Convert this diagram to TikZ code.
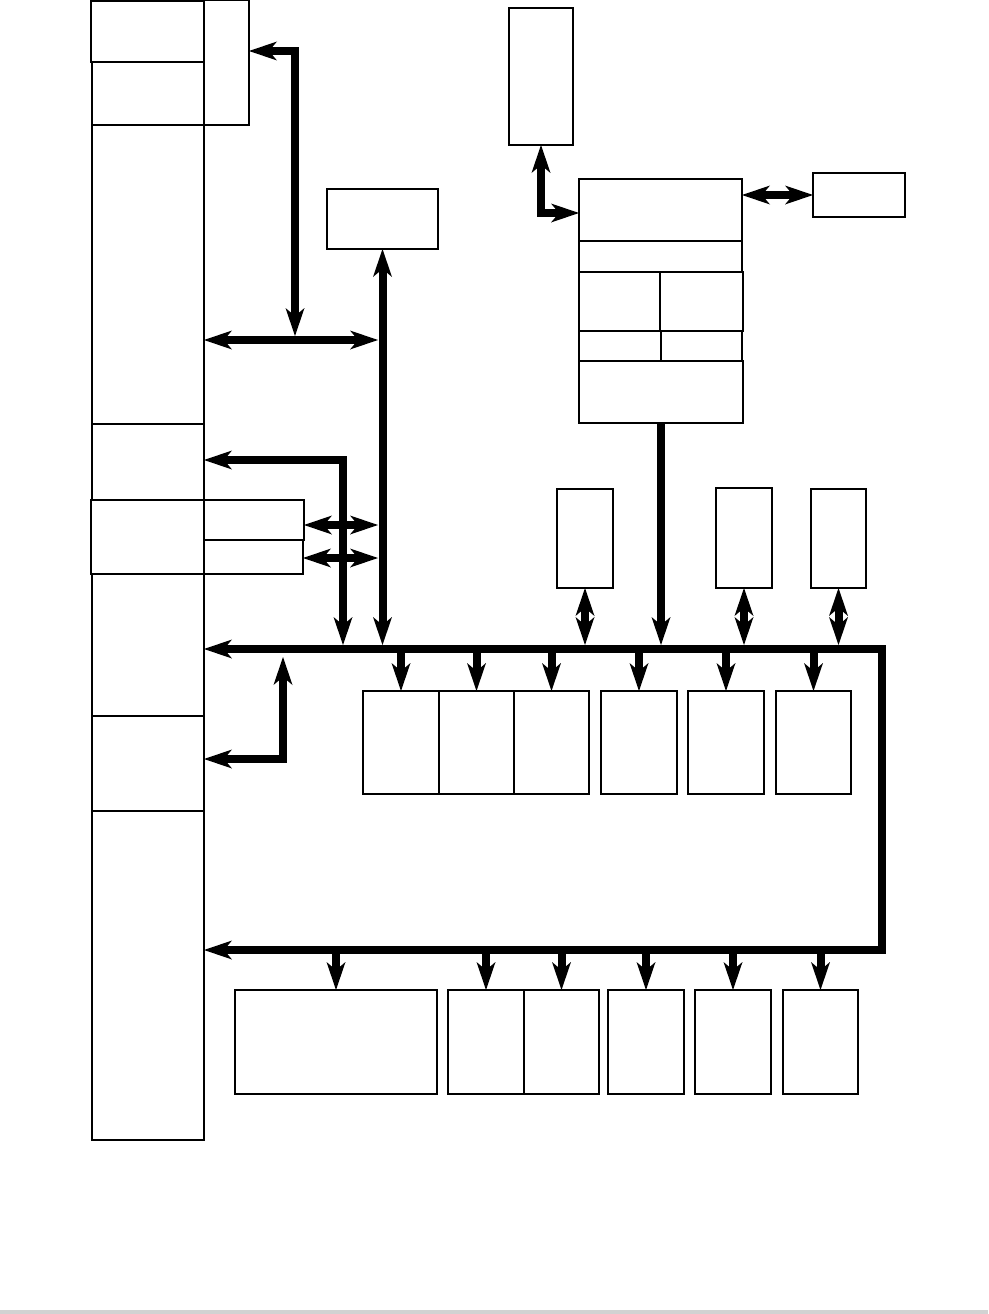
\documentclass[tikz,border=0pt]{standalone}
\usetikzlibrary{arrows.meta}
\tikzset{
 bx/.style={draw, line width=1.5pt, inner sep=0pt, outer sep=0pt, fill=white},
 bus/.style={line width=8pt, >={Stealth[length=28pt,width=19pt,inset=8pt,line width=0pt]}},
}
\newcommand\bx[5]{\node[bx,minimum width={(#4-#2)*1pt},minimum height={(#5-#3)*1pt}] (#1) at ({(#2+#4)/2*1pt},{-(#3+#5)/2*1pt}) {};}
\begin{document}
\begin{tikzpicture}
\useasboundingbox (0,0) rectangle (988pt,-1314pt);
\fill[gray!35] (0,-1310pt) rectangle (988pt,-1314pt);
% left column
\bx{A}{91}{1}{204}{62}
\bx{B}{92}{62}{204}{125}
\bx{C}{204}{0}{249}{125}
\bx{D}{92}{125}{204}{424}
\bx{E}{92}{424}{204}{500}
\bx{F}{91}{500}{204}{574}
\bx{F1}{204}{500}{304}{540}
\bx{F2}{204}{540}{303}{574}
\bx{G}{92}{574}{204}{716}
\bx{H}{92}{716}{204}{811}
\bx{I}{92}{811}{204}{1140}
% top
\bx{J}{327}{189}{438}{249}
\bx{K}{509}{8}{573}{145}
\bx{L}{579}{179}{742}{241}
\bx{L2}{579}{241}{742}{272}
\bx{L3a}{579}{272}{660}{331}
\bx{L3b}{660}{272}{743}{331}
\bx{L4a}{579}{331}{661}{361}
\bx{L4b}{661}{331}{742}{361}
\bx{L5}{579}{361}{743}{423}
\bx{M}{813}{173}{905}{217}
% above bus 1
\bx{N1}{557}{489}{613}{588}
\bx{N2}{716}{488}{772}{588}
\bx{N3}{811}{489}{866}{588}
% below bus 1
\bx{P1}{363}{691}{439}{794}
\bx{P2}{439}{691}{514}{794}
\bx{P3}{514}{691}{589}{794}
\bx{P4}{601}{691}{677}{794}
\bx{P5}{688}{691}{764}{794}
\bx{P6}{776}{691}{851}{794}
% below bus 2
\bx{Q1}{235}{990}{437}{1094}
\bx{Q2}{448}{990}{524}{1094}
\bx{Q3}{524}{990}{599}{1094}
\bx{Q4}{608}{990}{684}{1094}
\bx{Q5}{695}{990}{771}{1094}
\bx{Q6}{783}{990}{858}{1094}
% coordinates
\coordinate (b1) at (882pt,-649pt);
\coordinate (b2) at (882pt,-950pt);
\coordinate (b1t) at (0,-645pt);
\coordinate (b1b) at (0,-653pt);
\coordinate (b2b) at (0,-954pt);
\coordinate (v1) at (295pt,-336pt);
\coordinate (h1) at (378pt,-340pt);
\coordinate (v2) at (343pt,-460pt);
\coordinate (h2) at (378pt,-525pt);
\coordinate (h3) at (378pt,-558pt);
\coordinate (v3) at (283pt,-657pt);
\coordinate (hh) at (0,-759pt);
\coordinate (cc) at (0,-51pt);
\coordinate (k1) at (0,-213pt);
% buses and connectors
\draw[bus,<->] (G.east |- b1) -- (b1) -- (b2) -- (I.east |- b2);
\draw[bus,<->] (C.east |- cc) -| (v1);
\draw[bus,<->] (D.east |- h1) -- (h1);
\draw[bus,<->] (J.south) -- (J.south |- b1t);
\draw[bus,<->] (E.east |- v2) -| (v2 |- b1t);
\draw[bus,<->] (F1.east |- h2) -- (h2);
\draw[bus,<->] (F2.east |- h3) -- (h3);
\draw[bus,<->] (v3) |- (H.east |- hh);
\draw[bus,->] (L5.south) -- (L5.south |- b1t);
\foreach \n in {N1,N2,N3} \draw[bus,<->] (\n.south) -- (\n.south |- b1t);
\foreach \n in {P1,P2,P3,P4,P5,P6} \draw[bus,->] (\n.north |- b1b) -- (\n.north);
\foreach \n in {Q1,Q2,Q3,Q4,Q5,Q6} \draw[bus,->] (\n.north |- b2b) -- (\n.north);
\draw[bus,<->] (K.south) |- (L.west |- k1);
\draw[bus,<->] (L.east |- M.west) -- (M.west);
\end{tikzpicture}
\end{document}
